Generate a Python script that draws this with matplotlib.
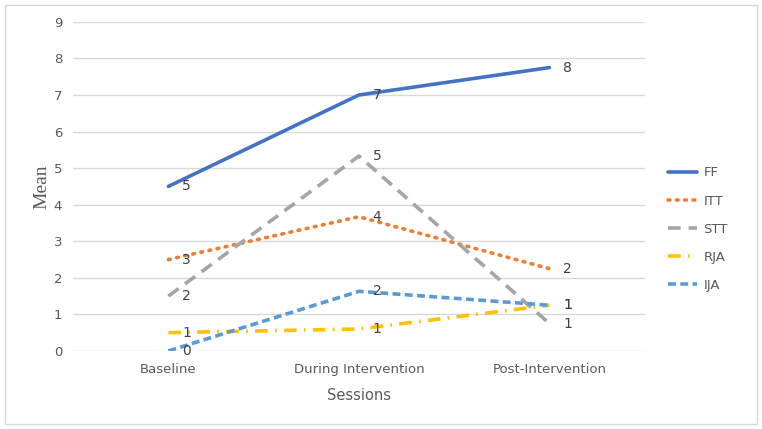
import math
import matplotlib.pyplot as plt
from matplotlib.patches import Rectangle

# Data
sessions = ["Baseline", "During Intervention", "Post-Intervention"]
ff = [4.5, 7.0, 7.75]
itt = [2.5, 3.67, 2.25]
stt = [1.5, 5.33, 0.75]
rja = [0.5, 0.6, 1.25]
ija = [0.0, 1.63, 1.25]

series = [
    ("FF", ff, "#4472C4", "-"),
    ("ITT", itt, "#ED7D31", (0, (0.5, 1.8))),
    ("STT", stt, "#A5A5A5", (0, (3.5, 2.2))),
    ("RJA", rja, "#FFC000", (0, (3.5, 2.0, 0.5, 2.0))),
    ("IJA", ija, "#5B9BD5", (0, (2.2, 1.2))),
]

fig = plt.figure(figsize=(7.62, 4.29), dpi=100)
ax = fig.add_axes([0.096, 0.182, 0.75, 0.767])

# outer chart border
fig.patches.append(Rectangle((0.007, 0.012), 0.986, 0.976, transform=fig.transFigure,
                             fill=False, edgecolor="#D9D9D9", linewidth=1))

x = list(range(len(sessions)))
for name, vals, color, ls in series:
    ax.plot(x, vals, color=color, linestyle=ls, linewidth=2.6,
            dash_capstyle="round" if name == "ITT" else "butt",
            solid_capstyle="round", label=name)
    for xi, v in zip(x, vals):
        # data labels rounded half-up, like Excel
        ax.annotate(str(int(math.floor(v + 0.5))), (xi, v), xytext=(10, 0),
                    textcoords="offset points", va="center", ha="left",
                    fontsize=10, color="#404040")

ax.set_xlim(-0.5, 2.5)
ax.set_ylim(0, 9)
ax.set_yticks(range(0, 10))
ax.set_xticks(x)
ax.set_xticklabels(sessions)
ax.grid(axis="y", color="#D9D9D9", linewidth=1)
ax.set_axisbelow(True)
for s in ax.spines.values():
    s.set_visible(False)
ax.tick_params(length=0, colors="#595959", labelsize=9.5, pad=9)
ax.tick_params(axis="y", pad=8)

ax.set_ylabel("Mean", family="Liberation Serif", fontsize=14, color="#595959", labelpad=2)
ax.set_xlabel("Sessions", fontsize=10.5, color="#595959", labelpad=8)

leg = ax.legend(loc="center left", bbox_to_anchor=(1.02, 0.37), frameon=False,
                fontsize=9.5, handlelength=2.2, handletextpad=0.5,
                labelspacing=1.15, labelcolor="#595959")

plt.savefig("out.png", dpi=100)
